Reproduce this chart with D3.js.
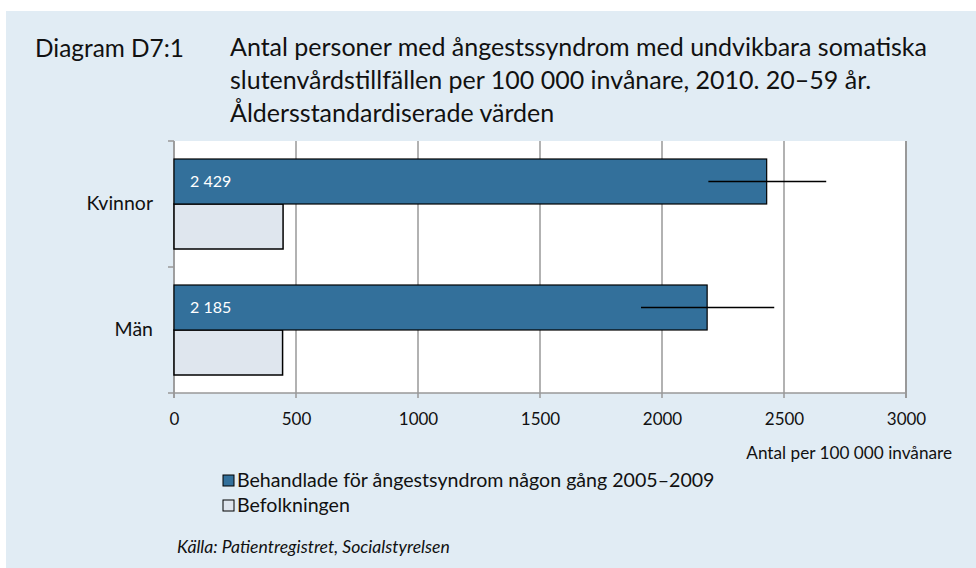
<!DOCTYPE html>
<html>
<head>
<meta charset="utf-8">
<script src="https://cdn.jsdelivr.net/npm/d3@7"></script>
<style>
  body { margin: 0; background: #fff; }
  svg { display: block; font-family: Lato, "Open Sans", sans-serif; }
</style>
</head>
<body>
<script>
// data
const categories = ["Kvinnor", "Män"];
const seriesNames = ["Behandlade för ångestsyndrom någon gång 2005–2009", "Befolkningen"];
const treated = [2429, 2185];
const population = [447, 445];
const errLow = [2190, 1914];
const errHigh = [2673, 2460];
const xTicks = [0, 500, 1000, 1500, 2000, 2500, 3000];
const valueLabels = ["2 429", "2 185"];

const W = 976, H = 568;
const svg = d3.select("body").append("svg")
  .attr("width", W)
  .attr("height", H);

// light blue panel
svg.append("rect")
  .attr("x", 6).attr("y", 11)
  .attr("width", W - 6).attr("height", H - 11)
  .attr("fill", "#e1ecf4");

// title
svg.append("text")
  .attr("x", 35).attr("y", 57)
  .attr("font-size", 24.4)
  .attr("fill", "#111")
  .text("Diagram D7:1");

const titleLines = [
  "Antal personer med ångestssyndrom med undvikbara somatiska",
  "slutenvårdstillfällen per 100 000 invånare, 2010. 20–59 år.",
  "Åldersstandardiserade värden"
];
svg.append("g").selectAll("text")
  .data(titleLines)
  .enter().append("text")
  .attr("x", 230)
  .attr("y", (d, i) => 56 + i * 33)
  .attr("font-size", 25)
  .attr("fill", "#111")
  .text(d => d);

let margin = { left: 174, right: 70, top: 141, bottom: 175 };
let plotW = W - margin.left - margin.right;
let plotH = H - margin.top - margin.bottom;

let x = d3.scaleLinear()
  .domain([0, 3000])
  .range([0, plotW]);

let y = d3.scaleBand()
  .domain(categories)
  .range([0, plotH])
  .paddingInner(36 / 126)
  .paddingOuter(18 / 126);

let sub = d3.scaleBand()
  .domain([0, 1])
  .range([0, y.bandwidth()]);

let chartGroup = svg.append("g")
  .attr("transform", "translate(" + margin.left + "," + margin.top + ")");

chartGroup.append("rect")
  .attr("width", plotW).attr("height", plotH)
  .attr("fill", "#fff");

// vertical gridlines (run a bit under the axis as ticks)
chartGroup.append("g")
  .selectAll("line")
  .data(xTicks)
  .enter().append("line")
  .attr("x1", d => x(d)).attr("x2", d => x(d))
  .attr("y1", 0).attr("y2", plotH + 5)
  .attr("stroke", "#999")
  .attr("stroke-width", d => d === 3000 ? 2 : 1.5);

// bottom axis labels
let xAxis = d3.axisBottom(x).tickValues(xTicks).tickSize(5).tickPadding(15).tickFormat(d3.format("d"));
let xg = chartGroup.append("g")
  .attr("transform", "translate(0," + plotH + ")")
  .call(xAxis);
xg.select(".domain").remove();
xg.selectAll(".tick line").remove();
xg.selectAll("text")
  .attr("font-family", "Lato, sans-serif")
  .attr("font-size", 17)
  .attr("fill", "#111");

chartGroup.append("line")
  .attr("x1", 0).attr("x2", plotW)
  .attr("y1", plotH).attr("y2", plotH)
  .attr("stroke", "#999").attr("stroke-width", 1.5);

// left axis with ticks between categories
let yAxis = d3.axisLeft(y).tickSize(0).tickPadding(21);
let yg = chartGroup.append("g").call(yAxis);
yg.select(".domain").remove();
yg.selectAll("text")
  .attr("font-family", "Lato, sans-serif")
  .attr("font-size", 19.5)
  .attr("fill", "#111");

let bounds = categories.map(c => y(c) - y.step() * y.paddingOuter()).concat([plotH]);
chartGroup.append("line")
  .attr("x1", 0).attr("x2", 0)
  .attr("y1", 0).attr("y2", plotH + 5)
  .attr("stroke", "#999").attr("stroke-width", 1.5);
chartGroup.selectAll(".ytick")
  .data(bounds)
  .enter().append("line")
  .attr("class", "ytick")
  .attr("x1", -6).attr("x2", 0)
  .attr("y1", d => d).attr("y2", d => d)
  .attr("stroke", "#999").attr("stroke-width", 1.5);

// bars
chartGroup.selectAll(".pop")
  .data(categories)
  .enter().append("rect")
  .attr("class", "pop")
  .attr("x", x(0))
  .attr("y", (d) => y(d) + sub(1))
  .attr("width", (d, i) => x(population[i]) - x(0))
  .attr("height", sub.bandwidth())
  .attr("fill", "#dfe6ee")
  .attr("stroke", "#000")
  .attr("stroke-width", 1.5);

chartGroup.selectAll(".treated")
  .data(categories)
  .enter().append("rect")
  .attr("class", "treated")
  .attr("x", x(0))
  .attr("y", (d) => y(d) + sub(0))
  .attr("width", (d, i) => x(treated[i]) - x(0))
  .attr("height", sub.bandwidth())
  .attr("fill", "#33709b")
  .attr("stroke", "#000")
  .attr("stroke-width", 1.2);

chartGroup.selectAll(".lbl")
  .data(categories)
  .enter().append("text")
  .attr("class", "lbl")
  .attr("x", x(0) + 16)
  .attr("y", (d) => y(d) + sub(0) + sub.bandwidth() / 2)
  .attr("dy", "0.35em")
  .attr("font-size", 16)
  .attr("fill", "#fff")
  .text((d, i) => valueLabels[i]);

// error bars, no caps
chartGroup.selectAll(".err")
  .data(categories)
  .enter().append("line")
  .attr("class", "err")
  .attr("x1", (d, i) => x(errLow[i]))
  .attr("x2", (d, i) => x(errHigh[i]))
  .attr("y1", (d) => y(d) + sub(0) + sub.bandwidth() / 2)
  .attr("y2", (d) => y(d) + sub(0) + sub.bandwidth() / 2)
  .attr("stroke", "#000")
  .attr("stroke-width", 1.5);

// axis title
svg.append("text")
  .attr("x", 952).attr("y", 459)
  .attr("text-anchor", "end")
  .attr("font-size", 17.2)
  .attr("fill", "#111")
  .text("Antal per 100 000 invånare");

// legend
let legendColors = ["#33709b", "#dfe6ee"];
let legend = svg.append("g").selectAll("g")
  .data(seriesNames)
  .enter().append("g")
  .attr("transform", (d, i) => "translate(223," + (475 + i * 25) + ")");
legend.append("rect")
  .attr("width", 11).attr("height", 11)
  .attr("fill", (d, i) => legendColors[i])
  .attr("stroke", "#000")
  .attr("stroke-width", 1);
legend.append("text")
  .attr("x", 14).attr("y", 12)
  .attr("font-size", 19.6)
  .attr("fill", "#111")
  .text(d => d);

// source
svg.append("text")
  .attr("x", 177).attr("y", 553)
  .attr("font-size", 17.6)
  .attr("font-style", "italic")
  .attr("fill", "#111")
  .text("Källa: Patientregistret, Socialstyrelsen");
</script>
</body>
</html>
